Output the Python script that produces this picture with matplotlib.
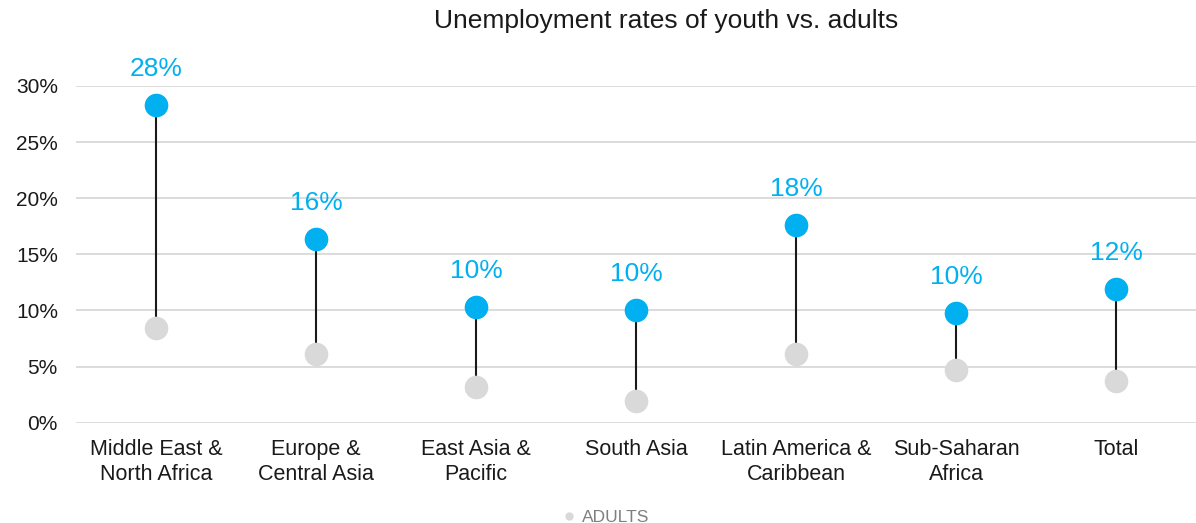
import matplotlib.pyplot as plt
from matplotlib.lines import Line2D
from matplotlib.ticker import PercentFormatter

plt.rcParams['font.family'] = ['Liberation Sans', 'DejaVu Sans']

regions = ["Middle East &\nNorth Africa", "Europe &\nCentral Asia", "East Asia &\nPacific",
           "South Asia", "Latin America &\nCaribbean", "Sub-Saharan\nAfrica", "Total"]
youth = [28.3, 16.4, 10.3, 10.0, 17.6, 9.8, 11.9]
adults = [8.4, 6.1, 3.2, 1.9, 6.1, 4.7, 3.7]
yticks = [0, 5, 10, 15, 20, 25, 30]

BLUE = "#00b0f0"
GREY = "#d9d9d9"

fig = plt.figure(figsize=(11.96, 5.23), dpi=100)
ax = fig.add_axes([0.0635, 0.1918, 0.9365, 0.6438])

x = list(range(len(regions)))
ax.vlines(x, adults, youth, color="#1a1a1a", linewidth=1.5, zorder=2)
ax.plot(x, adults, linestyle="none", marker="o", markersize=17, color=GREY,
        markeredgewidth=0, zorder=3, clip_on=False)
ax.plot(x, youth, linestyle="none", marker="o", markersize=17, color=BLUE,
        markeredgewidth=0, zorder=3, clip_on=False)

for xi, v in zip(x, youth):
    ax.annotate(f"{round(v)}%", (xi, v), xytext=(0, 26), textcoords="offset points",
                ha="center", va="center", fontsize=19, color=BLUE)

ax.set_xlim(-0.5, len(regions) - 0.5)
ax.set_ylim(0, 30)
ax.set_yticks(yticks)
ax.yaxis.set_major_formatter(PercentFormatter(decimals=0))
ax.set_xticks(x)
ax.set_xticklabels(regions, fontsize=15.5, linespacing=1.2)
ax.tick_params(axis="y", labelsize=15, length=0, pad=13, labelcolor="#1a1a1a")
ax.tick_params(axis="x", length=0, pad=12, labelcolor="#1a1a1a")
ax.grid(axis="y", color="#d9d9d9", linewidth=1.3)
ax.set_axisbelow(True)
for s in ax.spines.values():
    s.set_visible(False)

fig.suptitle("Unemployment rates of youth vs. adults", x=0.557, y=0.982, fontsize=19,
             color="#1a1a1a")

handle = Line2D([], [], linestyle="none", marker="o", markersize=6, color=GREY,
                markeredgewidth=0)
leg = fig.legend([handle], ["ADULTS"], loc="lower center", bbox_to_anchor=(0.505, -0.034),
                 frameon=False, fontsize=12.5, handletextpad=0.1, handlelength=1.2)
for t in leg.get_texts():
    t.set_color("#7f7f7f")

fig.savefig("out.png", dpi=100)
